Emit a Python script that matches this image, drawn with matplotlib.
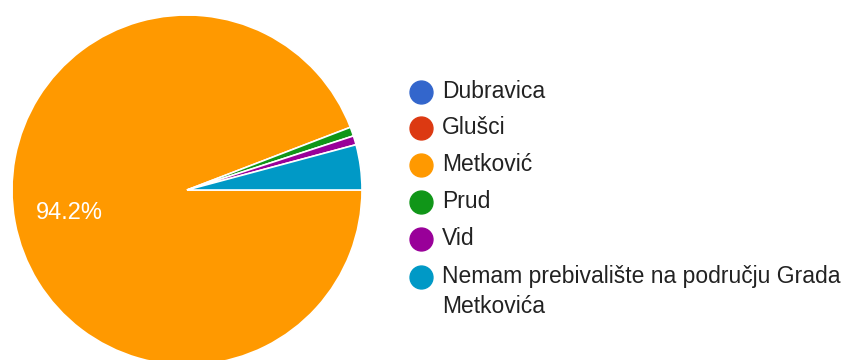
import matplotlib.pyplot as plt
from matplotlib.lines import Line2D

# Survey answers (counts) (113 of 120 = 94.2%)
labels = ["Dubravica", "Glušci", "Metković", "Prud", "Vid",
          "Nemam prebivalište na području Grada\nMetkovića"]
counts = [0, 0, 113, 1, 1, 5]
colors = ["#3366cc", "#dc3912", "#ff9900", "#109618", "#990099", "#0099c6"]

W, H = 851, 360
fig = plt.figure(figsize=(W / 100, H / 100), dpi=100)
plt.rcParams["font.family"] = ["Liberation Sans", "DejaVu Sans"]

# pie: centre (187,190) px, radius 175 px
cx, cy, r = 187, 190, 175
ax = fig.add_axes([(cx - r) / W, (H - cy - r) / H, 2 * r / W, 2 * r / H])
ax.pie(counts, colors=colors, startangle=0, counterclock=False,
       wedgeprops=dict(edgecolor="white", linewidth=1.2))
ax.set_xlim(-1, 1)
ax.set_ylim(-1, 1)
ax.set_aspect("equal")
ax.axis("off")

pct = 100 * counts[2] / sum(counts)
ax.text(-0.67, -0.13, "%.1f%%" % pct, color="white", fontsize=17,
        ha="center", va="center")

# legend drawn by hand
lax = fig.add_axes([0, 0, 1, 1])
lax.set_xlim(0, W)
lax.set_ylim(H, 0)
lax.axis("off")
rows = [92, 128, 165, 202, 239, 277]
for lab, col, y in zip(labels, colors, rows):
    lax.plot(421, y, "o", color=col, markersize=16.5)
    lax.text(442, y, lab, fontsize=16.5, color="#222222", va="top",
             linespacing=1.4, transform=lax.transData,
             ).set_y(y - 12)

fig.savefig("out.png", dpi=100)
